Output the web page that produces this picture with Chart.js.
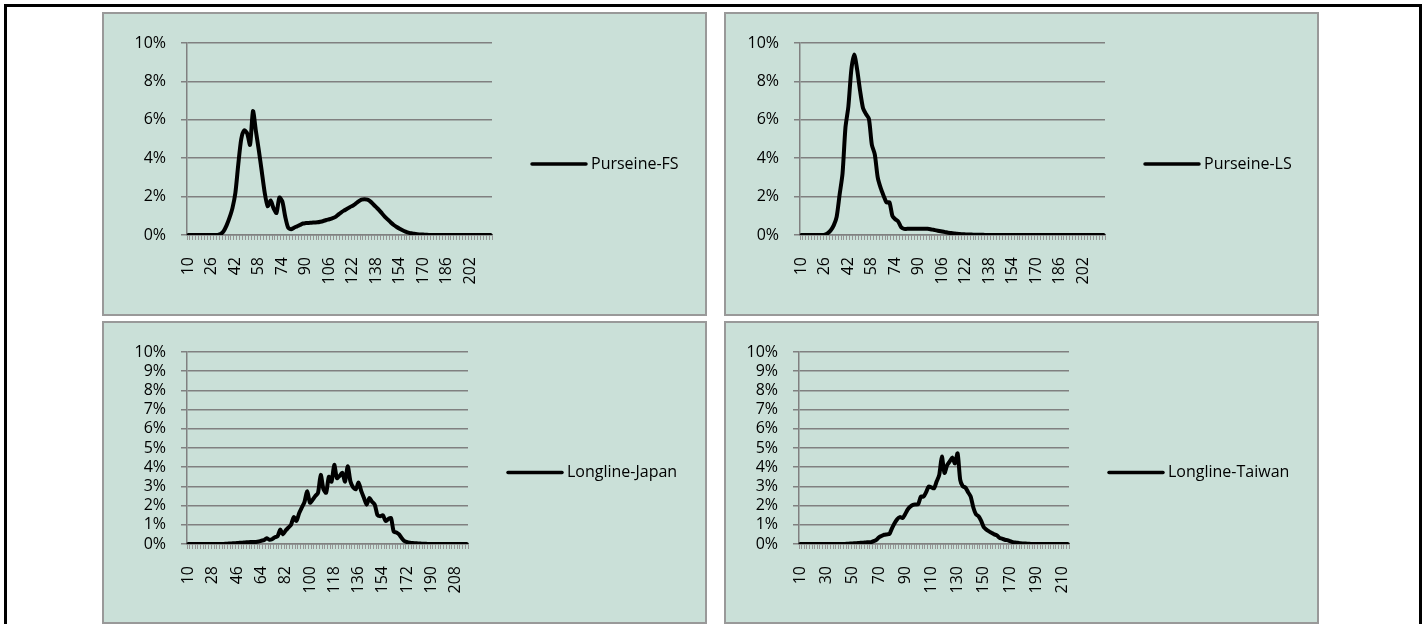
<!DOCTYPE html>
<html>
<head>
<meta charset="utf-8">
<script src="https://cdn.jsdelivr.net/npm/chart.js@4.4.1/dist/chart.umd.min.js"></script>
<style>
  html, body { margin: 0; padding: 0; background: #fff; }
  body { width: 1426px; height: 624px; position: relative; overflow: hidden; }
  #frame { position: absolute; left: 4px; top: 4px; width: 1418px; height: 700px;
           border: 3px solid #000; box-sizing: border-box; }
  .panel { position: absolute; background: #CAE0D8; border: 2px solid #999; }
  .panel canvas { display: block; }
</style>
</head>
<body>
<div id="frame"></div>
<div class="panel" style="left:102px;top:12px;"><canvas id="cFS" width="601" height="300"></canvas></div>
<div class="panel" style="left:724px;top:12px;"><canvas id="cLS" width="591" height="300"></canvas></div>
<div class="panel" style="left:102px;top:321px;"><canvas id="cJP" width="601" height="299"></canvas></div>
<div class="panel" style="left:724px;top:321px;"><canvas id="cTW" width="591" height="299"></canvas></div>

<script>
// Length classes (cm), 2 cm bins
const lengths10to216 = [
  10, 12, 14, 16, 18, 20, 22, 24, 26, 28,
  30, 32, 34, 36, 38, 40, 42, 44, 46, 48,
  50, 52, 54, 56, 58, 60, 62, 64, 66, 68,
  70, 72, 74, 76, 78, 80, 82, 84, 86, 88,
  90, 92, 94, 96, 98, 100, 102, 104, 106, 108,
  110, 112, 114, 116, 118, 120, 122, 124, 126, 128,
  130, 132, 134, 136, 138, 140, 142, 144, 146, 148,
  150, 152, 154, 156, 158, 160, 162, 164, 166, 168,
  170, 172, 174, 176, 178, 180, 182, 184, 186, 188,
  190, 192, 194, 196, 198, 200, 202, 204, 206, 208,
  210, 212, 214, 216
];
const lengths10to214 = [
  10, 12, 14, 16, 18, 20, 22, 24, 26, 28,
  30, 32, 34, 36, 38, 40, 42, 44, 46, 48,
  50, 52, 54, 56, 58, 60, 62, 64, 66, 68,
  70, 72, 74, 76, 78, 80, 82, 84, 86, 88,
  90, 92, 94, 96, 98, 100, 102, 104, 106, 108,
  110, 112, 114, 116, 118, 120, 122, 124, 126, 128,
  130, 132, 134, 136, 138, 140, 142, 144, 146, 148,
  150, 152, 154, 156, 158, 160, 162, 164, 166, 168,
  170, 172, 174, 176, 178, 180, 182, 184, 186, 188,
  190, 192, 194, 196, 198, 200, 202, 204, 206, 208,
  210, 212, 214
];

// Percentage of catch in each length class
const purseineFS = [
  0, 0, 0, 0, 0, 0, 0, 0, 0, 0,
  0, 0.05, 0.2, 0.5, 0.9, 1.4, 2.2, 3.7, 5.0, 5.45,
  5.3, 4.7, 6.45, 5.4, 4.4, 3.3, 2.2, 1.5, 1.8, 1.4,
  1.15, 1.95, 1.75, 0.95, 0.38, 0.3, 0.38, 0.45, 0.52, 0.6,
  0.62, 0.63, 0.64, 0.65, 0.66, 0.69, 0.73, 0.78, 0.82, 0.87,
  0.93, 1.05, 1.17, 1.27, 1.35, 1.45, 1.52, 1.63, 1.75, 1.84,
  1.86, 1.84, 1.75, 1.6, 1.45, 1.3, 1.12, 0.95, 0.8, 0.65,
  0.52, 0.42, 0.33, 0.25, 0.18, 0.12, 0.09, 0.06, 0.04, 0.03,
  0.02, 0.01, 0, 0, 0, 0, 0, 0, 0, 0,
  0, 0, 0, 0, 0, 0, 0, 0, 0, 0,
  0, 0, 0, 0
];
const purseineLS = [
  0, 0, 0, 0, 0, 0, 0, 0, 0.02, 0.1,
  0.25, 0.5, 0.95, 2.1, 3.2, 5.6, 6.7, 8.6, 9.4, 8.6,
  7.5, 6.6, 6.3, 6.05, 4.7, 4.2, 3.0, 2.45, 2.05, 1.7,
  1.7, 1.0, 0.82, 0.7, 0.4, 0.32, 0.32, 0.32, 0.32, 0.33,
  0.33, 0.33, 0.33, 0.32, 0.3, 0.27, 0.24, 0.21, 0.18, 0.15,
  0.12, 0.1, 0.08, 0.06, 0.05, 0.04, 0.03, 0.02, 0.02, 0.01,
  0.01, 0.01, 0.01, 0, 0, 0, 0, 0, 0, 0,
  0, 0, 0, 0, 0, 0, 0, 0, 0, 0,
  0, 0, 0, 0, 0, 0, 0, 0, 0, 0,
  0, 0, 0, 0, 0, 0, 0, 0, 0, 0,
  0, 0, 0, 0
];
const longlineJapan = [
  0, 0, 0, 0, 0, 0, 0, 0, 0, 0,
  0, 0, 0, 0, 0.01, 0.02, 0.03, 0.04, 0.05, 0.06,
  0.07, 0.08, 0.09, 0.1, 0.1, 0.11, 0.13, 0.17, 0.2, 0.3,
  0.22, 0.25, 0.35, 0.4, 0.75, 0.5, 0.7, 0.85, 1.0, 1.4,
  1.2, 1.6, 1.9, 2.2, 2.75, 2.15, 2.3, 2.5, 2.67, 3.6,
  2.85, 2.67, 3.5, 3.25, 4.12, 3.43, 3.55, 3.7, 3.25, 4.05,
  3.25, 2.95, 2.85, 3.2, 2.75, 2.4, 2.05, 2.4, 2.2, 2.05,
  1.5, 1.45, 1.5, 1.2, 1.3, 1.35, 0.65, 0.6, 0.5, 0.3,
  0.15, 0.1, 0.07, 0.05, 0.04, 0.03, 0.02, 0.01, 0.01, 0,
  0, 0, 0, 0, 0, 0, 0, 0, 0, 0,
  0, 0, 0, 0
];
const longlineTaiwan = [
  0, 0, 0, 0, 0, 0, 0, 0, 0, 0,
  0, 0, 0, 0, 0, 0, 0, 0, 0.01, 0.02,
  0.03, 0.04, 0.05, 0.06, 0.07, 0.08, 0.09, 0.1, 0.15, 0.22,
  0.35, 0.42, 0.48, 0.5, 0.52, 0.83, 1.1, 1.3, 1.4, 1.35,
  1.55, 1.8, 1.95, 2.04, 2.06, 2.08, 2.47, 2.47, 2.7, 3.0,
  2.95, 2.9, 3.25, 3.6, 4.55, 3.7, 4.1, 4.3, 4.5, 4.2,
  4.72, 3.34, 3.0, 2.94, 2.7, 2.47, 1.9, 1.55, 1.44, 1.2,
  0.87, 0.75, 0.66, 0.58, 0.5, 0.45, 0.32, 0.28, 0.22, 0.2,
  0.15, 0.1, 0.08, 0.06, 0.04, 0.03, 0.02, 0.01, 0, 0,
  0, 0, 0, 0, 0, 0, 0, 0, 0, 0,
  0, 0, 0
];

const FONT = { family: '"Open Sans", "DejaVu Sans", sans-serif', size: 16 };
const TEXT = '#000';
const GRID = '#808080';

// Legend entry drawn beside the plot: short line sample + series name
const sideKey = {
  id: 'sideKey',
  afterDraw(chart, args, opts) {
    const { ctx, chartArea } = chart;
    const y = chart.height / 2;
    const x0 = chartArea.right + opts.gap;
    ctx.save();
    ctx.strokeStyle = '#000';
    ctx.lineWidth = 3.5;
    ctx.lineCap = 'round';
    ctx.beginPath();
    ctx.moveTo(x0, y);
    ctx.lineTo(x0 + opts.len, y);
    ctx.stroke();
    ctx.fillStyle = TEXT;
    ctx.font = FONT.size + 'px ' + FONT.family;
    ctx.textBaseline = 'middle';
    ctx.textAlign = 'left';
    ctx.fillText(chart.data.datasets[0].label, x0 + opts.len + 5, y);
    ctx.restore();
  }
};

function makeChart(id, name, labels, values, g) {
  new Chart(document.getElementById(id), {
    type: 'line',
    data: {
      labels: labels,
      datasets: [{
        label: name,
        data: values,
        borderColor: '#000',
        borderWidth: 4,
        pointRadius: 0,
        tension: 0.25,
        borderJoinStyle: 'round',
        borderCapStyle: 'round',
        fill: false
      }]
    },
    options: {
      responsive: false,
      animation: false,
      devicePixelRatio: 1,
      layout: { padding: { left: 0, top: g.top, right: g.right, bottom: 0 } },
      plugins: {
        legend: { display: false },
        tooltip: { enabled: false },
        sideKey: { gap: 40, len: 54 }
      },
      scales: {
        x: {
          type: 'category',
          offset: true,
          grid: { display: true, offset: true, drawOnChartArea: false, drawTicks: true,
                  tickLength: 5, color: '#959595', lineWidth: 1 },
          border: { display: true, color: GRID, width: 1.5 },
          ticks: {
            autoSkip: false, minRotation: 90, maxRotation: 90, padding: 17,
            color: TEXT, font: FONT,
            callback: (v, i) => (i % g.every === 0 ? String(labels[i]) : '')
          },
          afterFit: s => { s.height = g.xh; }
        },
        y: {
          min: 0, max: 10,
          grid: { color: GRID, lineWidth: 1.5, tickLength: 6, drawTicks: true },
          border: { display: true, color: GRID, width: 1.5 },
          ticks: {
            stepSize: g.step, autoSkip: false, padding: 15, color: TEXT, font: FONT,
            callback: v => v + '%'
          },
          afterFit: s => { s.width = g.left; }
        }
      }
    },
    plugins: [sideKey]
  });
}

makeChart('cFS', 'Purseine-FS', lengths10to216, purseineFS,
  { left: 83, top: 29, right: 213, xh: 79, step: 2, every: 8 });
makeChart('cLS', 'Purseine-LS', lengths10to216, purseineLS,
  { left: 74, top: 29, right: 212, xh: 79, step: 2, every: 8 });
makeChart('cJP', 'Longline-Japan', lengths10to216, longlineJapan,
  { left: 83, top: 29, right: 237, xh: 78, step: 1, every: 9 });
makeChart('cTW', 'Longline-Taiwan', lengths10to214, longlineTaiwan,
  { left: 73, top: 29, right: 248, xh: 78, step: 1, every: 10 });
</script>
</body>
</html>
